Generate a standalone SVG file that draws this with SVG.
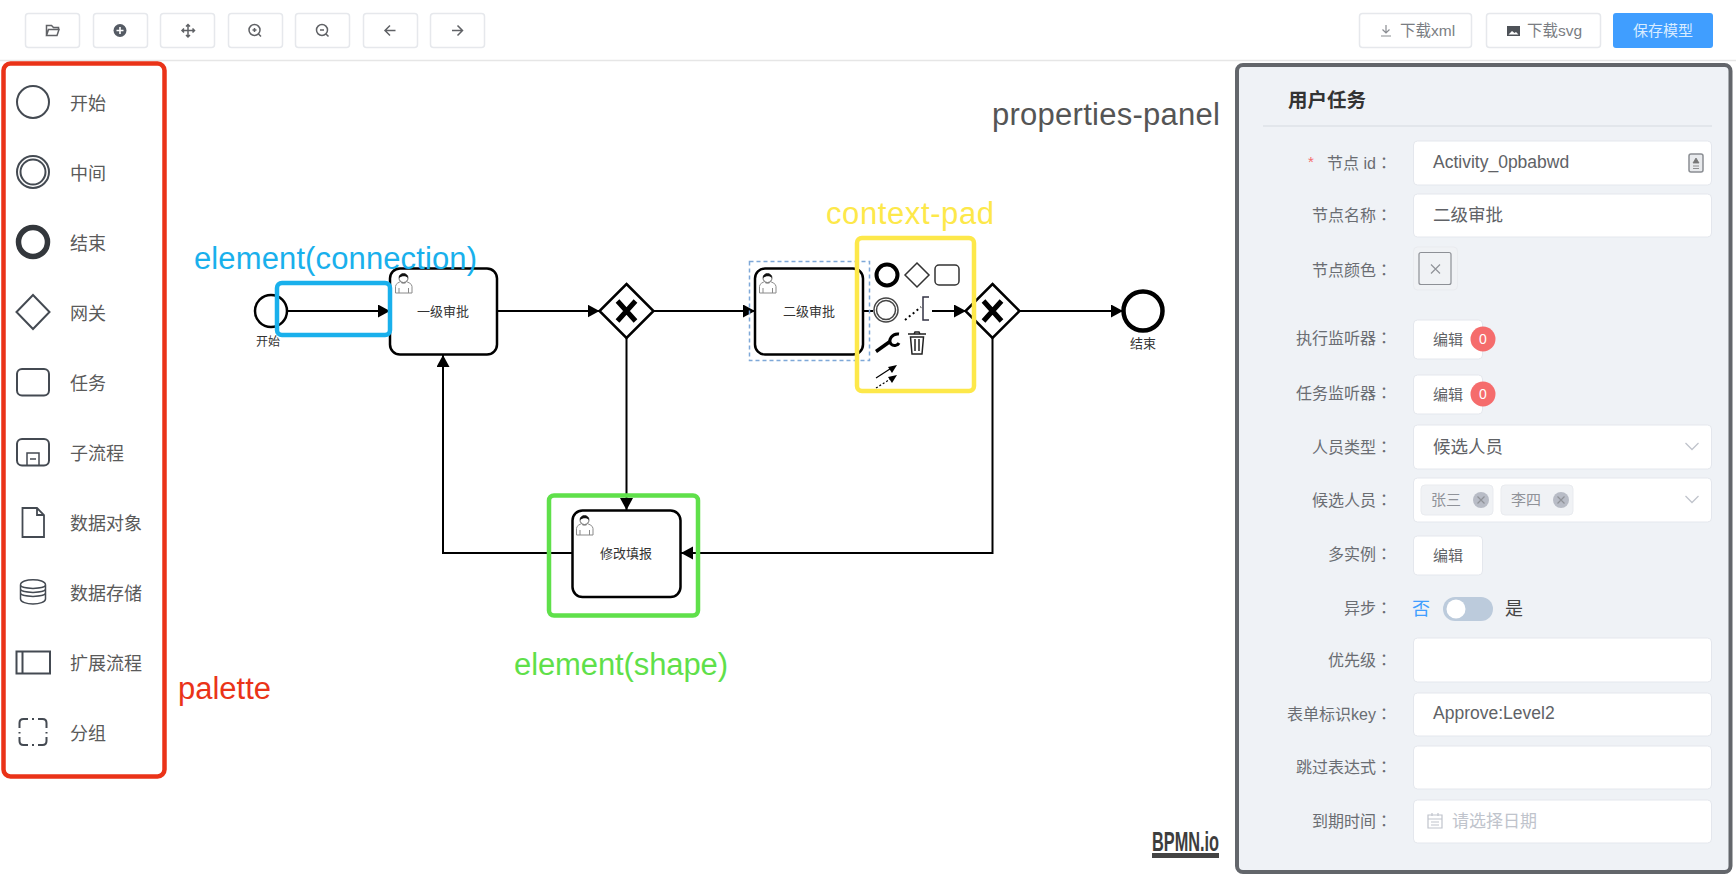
<svg xmlns="http://www.w3.org/2000/svg" width="1736" height="878" viewBox="0 0 1736 878">
<style>
text{font-family:"Liberation Sans","Noto Sans CJK SC",sans-serif}
.btn{fill:#fff;stroke:#e6e8ec;stroke-width:1.5}
.ti{fill:none;stroke:#606266;stroke-width:1.5}
.pi{fill:none;stroke:#444a52;stroke-width:2}
.pl{font-size:18px;fill:#5a5a5a}
.lb{font-size:16px;fill:#6a6d72;text-anchor:end}
.c{font-family:"Noto Sans CJK TC",sans-serif}
.val{font-size:17.5px;fill:#606266}
.inp{fill:#fff;stroke:#e4e7ed;stroke-width:1}
.task{fill:#fff;stroke:#000;stroke-width:2.5}
.tl{font-size:13px;fill:#333;text-anchor:middle}
.gw{fill:#fff;stroke:#000;stroke-width:2.5}
.x{fill:none;stroke:#000;stroke-width:5}
.conn{fill:none;stroke:#000;stroke-width:2;marker-end:url(#arr)}
.ann{font-size:31px}
.box{fill:none;stroke-width:4.5}
.chev{fill:none;stroke:#c0c4cc;stroke-width:1.3}
.tag{fill:#f0f2f5;stroke:#e9ebef}
.tt{font-size:15px;fill:#909399}
.cl{fill:#b8bcc6}
.clx{stroke:#909399;stroke-width:1.2}
.badge{fill:#f56c6c}
.bt{font-size:14px;fill:#fff;text-anchor:middle}
</style>
<defs>
<marker id="arr" markerUnits="userSpaceOnUse" markerWidth="14" markerHeight="14" refX="12" refY="6.5" orient="auto"><path d="M0 0L12 6.5L0 13Z" fill="#000"/></marker>
<g id="user">
<path d="M1.500 21V14.500C1.500 11.500 5 10.500 6.500 9.500C7.500 12 11.500 12 12.500 9.500C14 10.500 18 11.500 18 14.500V21Z" fill="#fff" stroke="#8a8a8a" stroke-width="1"/>
<circle cx="9.500" cy="6" r="4.500" fill="#fff" stroke="#666" stroke-width="1"/>
<path d="M5 6C4.500 0 14.500 0 14 6C12 3.500 8 3.500 5 6Z" fill="#111"/>
<path d="M5 21V16M14.500 21V16" stroke="#8a8a8a" stroke-width="1"/>
</g>
</defs>
<rect width="1736" height="878" fill="#fff"/>

<g id="toolbar">
<line x1="0" y1="60.500" x2="1736" y2="60.500" stroke="#e6e6e6" stroke-width="1.500"/>
<rect class="btn" x="25.500" y="13.500" width="54" height="34" rx="3"/>
<rect class="btn" x="93.500" y="13.500" width="54" height="34" rx="3"/>
<rect class="btn" x="160.500" y="13.500" width="54" height="34" rx="3"/>
<rect class="btn" x="228.500" y="13.500" width="54" height="34" rx="3"/>
<rect class="btn" x="295.500" y="13.500" width="54" height="34" rx="3"/>
<rect class="btn" x="363.500" y="13.500" width="54" height="34" rx="3"/>
<rect class="btn" x="430.500" y="13.500" width="54" height="34" rx="3"/>
<path class="ti" d="M46.500 35.500V25.500H51.500L53.500 27.500H58.500V29.500M46.500 35.500H57L59 29.500H48.500L46.500 35.500Z"/>
<circle cx="120" cy="30.500" r="6.500" fill="#555b64"/>
<path d="M116.500 30.500H123.500M120 27V34" stroke="#fff" stroke-width="1.600"/>
<path class="ti" d="M182 30.500H194.500M188 24.500V37M186 26.500L188 24.500L190 26.500M186 35L188 37L190 35M184 28.500L182 30.500L184 32.500M192.500 28.500L194.500 30.500L192.500 32.500"/>
<circle class="ti" cx="254.500" cy="30" r="5.500"/>
<path class="ti" d="M258.500 34L261 36.500M252.500 30H256.500M254.500 28V32"/>
<circle class="ti" cx="322" cy="30" r="5.500"/>
<path class="ti" d="M326 34L328.500 36.500M320 30H324"/>
<path class="ti" d="M385 30.500H395.500M390 25.500L385 30.500L390 35.500"/>
<path class="ti" d="M452 30.500H462.500M457.500 25.500L462.500 30.500L457.500 35.500"/>
<rect class="btn" x="1359.500" y="13.500" width="112" height="34" rx="3"/>
<path class="ti" style="stroke:#8a8d92;stroke-width:1.200" d="M1386 25V33M1382.500 29.500L1386 33L1389.500 29.500M1381 36H1391"/>
<text x="1400" y="36" font-size="15.500" fill="#7a7d82">下载xml</text>
<rect class="btn" x="1486.500" y="13.500" width="114" height="34" rx="3"/>
<rect x="1507" y="26" width="13" height="10" fill="#4e5258"/>
<path d="M1508.500 34.500L1512 31L1514.500 33L1516 32L1518.500 34.500Z" fill="#fff"/>
<text x="1527" y="36" font-size="15.500" fill="#7a7d82">下载svg</text>
<rect x="1613" y="13" width="100" height="35" rx="3" fill="#409eff"/>
<text x="1633" y="36" font-size="15" fill="#d9ecff">保存模型</text>
</g>

<g id="palette">
<g id="p-start"><circle class="pi" cx="33" cy="102" r="16"/><text class="pl" x="70" y="110">开始</text></g>
<g id="p-mid"><circle class="pi" cx="33" cy="172" r="16"/><circle class="pi" cx="33" cy="172" r="12.500" stroke-width="1.500"/><text class="pl" x="70" y="180">中间</text></g>
<g id="p-end"><circle cx="33" cy="242" r="14.500" fill="none" stroke="#33373c" stroke-width="5.500"/><text class="pl" x="70" y="249.500">结束</text></g>
<g id="p-gateway"><path class="pi" d="M33 295L49.500 312L33 329L16.500 312Z"/><text class="pl" x="70" y="320">网关</text></g>
<g id="p-task"><rect class="pi" x="17" y="369" width="32" height="26.500" rx="5"/><text class="pl" x="70" y="390">任务</text></g>
<g id="p-sub"><rect class="pi" x="17" y="439" width="32" height="26.500" rx="5"/><path class="pi" style="stroke-width:1.500" d="M27 465V453H39V465M30 459H36"/><text class="pl" x="70" y="460">子流程</text></g>
<g id="p-data"><path class="pi" style="stroke-width:1.800" d="M22.500 508H37L44 515V537H22.500ZM37 508V515H44"/><text class="pl" x="70" y="530">数据对象</text></g>
<g id="p-store"><path class="pi" style="stroke-width:1.500" d="M20.500 585C20.500 578 45.500 578 45.500 585V599C45.500 605.500 20.500 605.500 20.500 599ZM20.500 585C20.500 589.500 45.500 589.500 45.500 585M20.500 589C20.500 593.500 45.500 593.500 45.500 589M20.500 593C20.500 597.500 45.500 597.500 45.500 593"/><text class="pl" x="70" y="600">数据存储</text></g>
<g id="p-pool"><path class="pi" d="M16.500 651.500H50V673.500H16.500ZM22.500 651.500V673.500"/><text class="pl" x="70" y="670">扩展流程</text></g>
<g id="p-group"><path class="pi" d="M28 719H23.500Q19.500 719 19.500 723V728M38 719H42.500Q46.500 719 46.500 723V728M28 745H23.500Q19.500 745 19.500 741V737M38 745H42.500Q46.500 745 46.500 741V737M32 719H34M32 745H34M19.500 732V733.500M46.500 732V733.500"/><text class="pl" x="70" y="740">分组</text></g>
</g>

<g id="connectors">
<path class="conn" d="M287 311H390"/>
<path class="conn" d="M497 311H599.500"/>
<path class="conn" d="M653.500 311H755"/>
<path class="conn" d="M626.500 338V510"/>
<path class="conn" d="M863 311H966"/>
<path class="conn" d="M1019 311H1123"/>
<path class="conn" d="M992.500 338V553H681"/>
<path class="conn" d="M572 553H443V355"/>
</g>

<g id="node-start"><circle cx="271" cy="311" r="16" fill="#fff" stroke="#000" stroke-width="2.500"/><text class="tl" style="font-size:12px" x="268" y="346">开始</text></g>
<g id="node-task1"><rect class="task" x="390" y="268.500" width="107" height="86" rx="10"/><use href="#user" x="394" y="272"/><text class="tl" x="443" y="316">一级审批</text></g>
<g id="node-gw1"><path class="gw" d="M626.500 284L653.500 311L626.500 338L599.500 311Z"/><path class="x" d="M617.500 301L635.500 321M635.500 301L617.500 321"/></g>
<g id="node-task2"><rect class="task" x="755" y="268.500" width="108" height="86" rx="10"/><use href="#user" x="758" y="272"/><text class="tl" x="809" y="316">二级审批</text><rect x="749.500" y="261.500" width="120" height="99" fill="none" stroke="#7ea8d8" stroke-width="1.500" stroke-dasharray="4 3"/></g>
<g id="node-gw2"><path class="gw" d="M992.500 284L1019.500 311L992.500 338L965.500 311Z"/><path class="x" d="M983.500 301L1001.500 321M1001.500 301L983.500 321"/></g>
<g id="node-end"><circle cx="1143" cy="311" r="19.500" fill="#fff" stroke="#000" stroke-width="4.500"/><text class="tl" x="1143" y="348">结束</text></g>
<g id="node-task3"><rect class="task" x="572.500" y="510.500" width="108" height="86.500" rx="10"/><use href="#user" x="575" y="514"/><text class="tl" x="626" y="558">修改填报</text></g>

<g id="context-pad">
<rect x="873" y="262" width="59" height="98" fill="#fff"/>
<circle cx="887" cy="275" r="10.500" fill="none" stroke="#000" stroke-width="4"/>
<path d="M917 263L929 275L917 287L905 275Z" fill="none" stroke="#333" stroke-width="1.500"/>
<rect x="935" y="265" width="24" height="20" rx="4" fill="none" stroke="#333" stroke-width="1.500"/>
<circle cx="886" cy="310" r="12" fill="none" stroke="#444" stroke-width="1.500"/>
<circle cx="886" cy="310" r="9.500" fill="none" stroke="#444" stroke-width="1.500"/>
<path d="M905 320L921 307" fill="none" stroke="#000" stroke-width="2" stroke-dasharray="2 3"/>
<path d="M929 297H923V320H929" fill="none" stroke="#334" stroke-width="1.500"/>
<path d="M876 351.500L890 341.500" stroke="#000" stroke-width="3.500" fill="none"/>
<path d="M899 334C892 333 888 340 891 344C894 347 898 345 899 343" fill="none" stroke="#000" stroke-width="3"/>
<path d="M908 334H926M914 334L915 332H919L920 334M910.500 337L912 354H922L923.500 337ZM915 339V351M919 339V351" fill="none" stroke="#222" stroke-width="1.500"/>
<path d="M876 378L893 367" stroke="#000" stroke-width="1.200" fill="none"/>
<path d="M897 365L888 367L892 373Z" fill="#000"/>
<path d="M876 388L892 378" stroke="#000" stroke-width="1.200" stroke-dasharray="2 2" fill="none"/>
<path d="M897 375L888 377L892 383Z" fill="#000"/>
</g>

<g id="properties-panel">
<rect x="1237" y="65" width="493.500" height="807" rx="6" fill="#eff2f6" stroke="#63666b" stroke-width="4"/>
<text x="1288" y="107" font-size="19.500" font-weight="700" fill="#333">用户任务</text>
<line x1="1263" y1="126" x2="1712" y2="126" stroke="#d6dae0" stroke-width="1.200"/>
<g id="f-id"><text x="1311" y="167" font-size="15" fill="#f56c6c" text-anchor="middle">*</text><text class="lb" x="1392" y="169">节点 id<tspan class="c">：</tspan></text><rect class="inp" x="1413.500" y="141" width="298" height="44" rx="4"/><text class="val" x="1433" y="168">Activity_0pbabwd</text><rect x="1689" y="154" width="14" height="18" rx="2" fill="#e8eaed" stroke="#8a8d92" stroke-width="1.500"/><path d="M1693 163H1699L1696 158ZM1693 166H1699M1693 168.500H1699" fill="#777" stroke="#777" stroke-width="0.800"/></g>
<g id="f-name"><text class="lb" x="1392" y="221">节点名称<tspan class="c">：</tspan></text><rect class="inp" x="1413.500" y="194" width="298" height="43" rx="4"/><text class="val" x="1433" y="221">二级审批</text></g>
<g id="f-color"><text class="lb" x="1392" y="276">节点颜色<tspan class="c">：</tspan></text><rect x="1413.500" y="247" width="44" height="43" rx="4" fill="#f0f2f5" stroke="#e9ebef"/><rect x="1419" y="252.500" width="32" height="32" rx="2" fill="none" stroke="#8d9096" stroke-width="1.200"/><path d="M1431 264.500L1440 273.500M1440 264.500L1431 273.500" stroke="#909399" stroke-width="1.200"/></g>
<g id="f-exec"><text class="lb" x="1392" y="344">执行监听器<tspan class="c">：</tspan></text><rect class="inp" x="1413.500" y="320" width="69" height="39" rx="4"/><text x="1433" y="345" font-size="15" fill="#606266">编辑</text><circle class="badge" cx="1483" cy="339" r="12.500"/><text class="bt" x="1483" y="344">0</text></g>
<g id="f-task"><text class="lb" x="1392" y="399">任务监听器<tspan class="c">：</tspan></text><rect class="inp" x="1413.500" y="375" width="69" height="39" rx="4"/><text x="1433" y="400" font-size="15" fill="#606266">编辑</text><circle class="badge" cx="1483" cy="394" r="12.500"/><text class="bt" x="1483" y="399">0</text></g>
<g id="f-type"><text class="lb" x="1392" y="453">人员类型<tspan class="c">：</tspan></text><rect class="inp" x="1413.500" y="425" width="298" height="44" rx="4"/><text class="val" x="1433" y="453">候选人员</text><path class="chev" d="M1685.500 443L1692 449.500L1698.500 443"/></g>
<g id="f-users"><text class="lb" x="1392" y="506">候选人员<tspan class="c">：</tspan></text><rect class="inp" x="1413.500" y="478" width="298" height="44" rx="4"/><rect class="tag" x="1421" y="485" width="72" height="30" rx="4"/><text class="tt" x="1431" y="505">张三</text><circle class="cl" cx="1481" cy="500" r="8"/><path class="clx" d="M1477.500 496.500L1484.500 503.500M1484.500 496.500L1477.500 503.500"/><rect class="tag" x="1501" y="485" width="72" height="30" rx="4"/><text class="tt" x="1511" y="505">李四</text><circle class="cl" cx="1561" cy="500" r="8"/><path class="clx" d="M1557.500 496.500L1564.500 503.500M1564.500 496.500L1557.500 503.500"/><path class="chev" d="M1685.500 496L1692 502.500L1698.500 496"/></g>
<g id="f-multi"><text class="lb" x="1392" y="560">多实例<tspan class="c">：</tspan></text><rect class="inp" x="1413.500" y="536" width="69" height="39" rx="4"/><text x="1433" y="561" font-size="15" fill="#606266">编辑</text></g>
<g id="f-async"><text class="lb" x="1392" y="614">异步<tspan class="c">：</tspan></text><text x="1412" y="615" font-size="18" fill="#409eff">否</text><rect x="1443" y="597" width="50" height="24" rx="12" fill="#bccbdc"/><circle cx="1456" cy="609" r="9.500" fill="#fff"/><text x="1505" y="615" font-size="18" fill="#444">是</text></g>
<g id="f-prio"><text class="lb" x="1392" y="666">优先级<tspan class="c">：</tspan></text><rect class="inp" x="1413.500" y="638" width="298" height="44" rx="4"/></g>
<g id="f-form"><text class="lb" x="1392" y="720">表单标识key<tspan class="c">：</tspan></text><rect class="inp" x="1413.500" y="693" width="298" height="43" rx="4"/><text class="val" x="1433" y="719">Approve:Level2</text></g>
<g id="f-skip"><text class="lb" x="1392" y="773">跳过表达式<tspan class="c">：</tspan></text><rect class="inp" x="1413.500" y="746" width="298" height="43" rx="4"/></g>
<g id="f-due"><text class="lb" x="1392" y="827">到期时间<tspan class="c">：</tspan></text><rect class="inp" x="1413.500" y="800" width="298" height="43" rx="4"/><path d="M1428 815H1442V828H1428ZM1428 819H1442M1432 813V816M1438 813V816M1431 822H1439M1431 825H1439" fill="none" stroke="#c0c4cc" stroke-width="1.200"/><text x="1452" y="827" font-size="17" fill="#c0c4cc">请选择日期</text></g>
</g>

<g id="bpmn-logo"><text x="1152" y="851" font-size="28" font-weight="700" fill="#3d3d3d" textLength="67" lengthAdjust="spacingAndGlyphs" style="font-family:'Liberation Sans Narrow','Liberation Sans',sans-serif">BPMN.io</text><rect x="1152" y="853" width="67" height="5" fill="#444"/></g>

<g id="annotations">
<rect class="box" x="3.500" y="63.500" width="161" height="713" rx="7" stroke="#ea3318"/>
<text class="ann" x="178" y="699" fill="#ea3318" textLength="93">palette</text>
<rect class="box" x="277" y="283" width="113" height="52" rx="5" stroke="#19b0ec"/>
<text class="ann" x="194" y="269" fill="#19b0ec" textLength="283">element(connection)</text>
<rect class="box" x="857" y="238" width="117" height="153" rx="5" stroke="#fde84a"/>
<text class="ann" x="826" y="224" fill="#fde84a" textLength="168">context-pad</text>
<rect class="box" x="549" y="495.500" width="149" height="120" rx="5" stroke="#5fe04a"/>
<text class="ann" x="514" y="675" fill="#5fe04a" textLength="214">element(shape)</text>
<text class="ann" x="992" y="125" fill="#555" textLength="228">properties-panel</text>
</g>
</svg>
